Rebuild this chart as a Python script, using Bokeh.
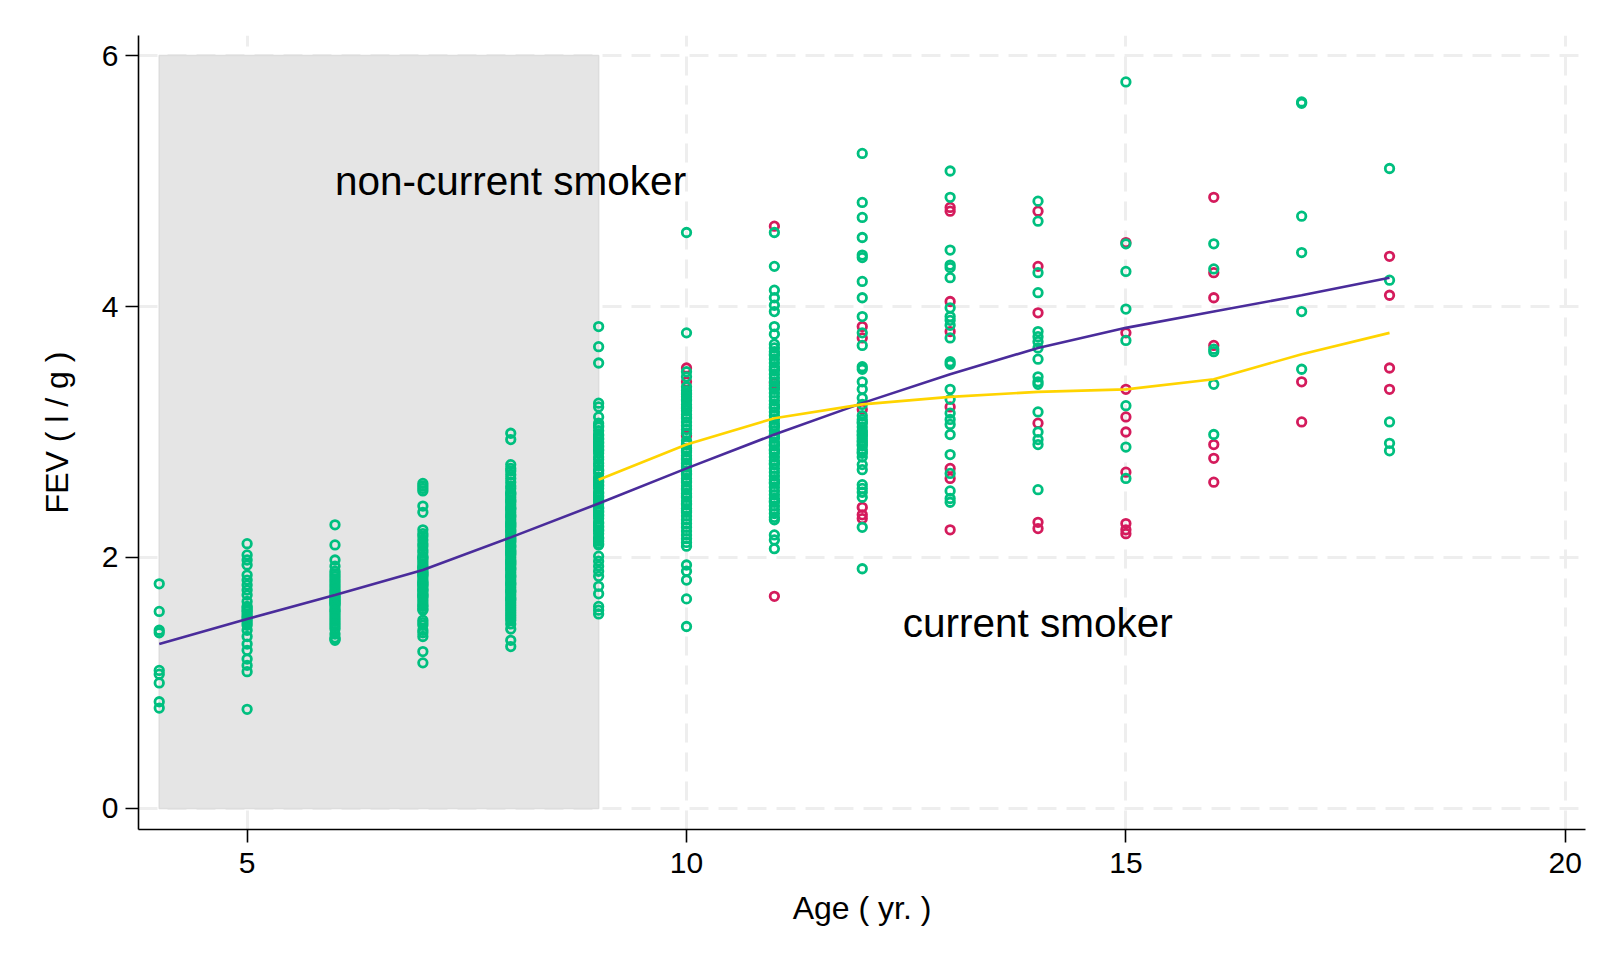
from bokeh.plotting import figure
from bokeh.models import Range1d, FixedTicker, ColumnDataSource, Label
from bokeh.embed import file_html
from bokeh.resources import INLINE

# ---------------- data ----------------
X_TICKS = [5, 10, 15, 20]
Y_TICKS = [0, 2, 4, 6]

# non-current smokers (green) per age
ns_4 = [1.79, 1.57, 1.42, 1.40, 1.10, 1.07, 1.00, 0.85, 0.80]
ns_5 = [2.11, 2.02, 1.98, 1.94, 1.86, 1.82, 1.78, 1.74, 1.70, 1.65, 1.61, 1.60, 1.58,
        1.57, 1.55, 1.53, 1.52, 1.50, 1.48, 1.46, 1.42, 1.37, 1.31, 1.26, 1.19, 1.14,
        1.09, 0.79]
ns_6 = [2.26, 2.10, 1.98, 1.93, 1.89, 1.87, 1.85, 1.83, 1.81, 1.79, 1.77, 1.75, 1.73,
        1.72, 1.70, 1.69, 1.68, 1.67, 1.66, 1.65, 1.64, 1.63, 1.62, 1.60, 1.58, 1.57,
        1.55, 1.53, 1.51, 1.49, 1.47, 1.45, 1.43, 1.39, 1.36, 1.34, 1.35]
ns_7 = [2.59, 2.57, 2.55, 2.53, 2.41, 2.36, 2.22, 2.19, 2.17, 2.14, 2.11, 2.09, 2.06,
        2.04, 2.01, 1.99, 1.97, 1.95, 1.93, 1.91, 1.89, 1.88, 1.86, 1.85, 1.83, 1.81,
        1.80, 1.78, 1.77, 1.75, 1.73, 1.71, 1.70, 1.68, 1.66, 1.64, 1.62, 1.61, 1.59,
        1.58, 1.50, 1.48, 1.46, 1.42, 1.40, 1.37, 1.25, 1.16, 2.00, 1.92, 1.87, 1.79,
        1.74, 1.69]
ns_8 = [2.99, 2.94, 2.74, 2.71, 2.69, 2.66, 2.63, 2.60, 2.57, 2.55, 2.52, 2.50, 2.48,
        2.46, 2.44, 2.42, 2.40, 2.38, 2.36, 2.34, 2.32, 2.30, 2.28, 2.26, 2.24, 2.22,
        2.20, 2.18, 2.16, 2.14, 2.12, 2.10, 2.08, 2.06, 2.04, 2.02, 2.00, 1.98, 1.96,
        1.94, 1.92, 1.90, 1.88, 1.86, 1.84, 1.82, 1.80, 1.78, 1.76, 1.74, 1.72, 1.70,
        1.68, 1.66, 1.64, 1.62, 1.60, 1.58, 1.56, 1.54, 1.52, 1.50, 1.47, 1.43, 1.34,
        1.29, 2.27, 2.21, 2.15, 2.09, 2.03, 1.97, 1.91, 1.85, 1.79, 2.33, 2.39, 2.45,
        1.73, 1.67, 2.51, 1.95, 2.05, 2.25, 2.13]
ns_9 = [3.84, 3.68, 3.55, 3.23, 3.20, 3.12, 3.07, 3.04, 3.01, 2.98, 2.95, 2.92, 2.89,
        2.86, 2.83, 2.80, 2.78, 2.73, 2.70, 2.67, 2.64, 2.61, 2.58, 2.55, 2.52, 2.49,
        2.46, 2.43, 2.40, 2.37, 2.34, 2.31, 2.28, 2.25, 2.22, 2.19, 2.16, 2.13, 2.10,
        2.01, 1.97, 1.93, 1.89, 1.85, 1.77, 1.71, 1.61, 1.58, 1.55, 3.05, 2.97, 2.91,
        2.85, 2.75, 2.69, 2.63, 2.57, 2.51, 2.45, 2.39, 2.33, 2.27, 2.21, 2.15, 2.11,
        2.88, 2.94, 2.60, 2.48, 2.36, 2.24]
ns_10 = [4.59, 3.79, 3.48, 3.44, 3.36, 3.33, 3.30, 3.28, 3.25, 3.22, 3.20, 3.17, 3.14,
         3.11, 3.08, 3.05, 3.02, 2.99, 2.93, 2.90, 2.87, 2.84, 2.81, 2.78, 2.75, 2.72,
         2.69, 2.66, 2.63, 2.60, 2.57, 2.54, 2.51, 2.48, 2.45, 2.42, 2.39, 2.36, 2.33,
         2.30, 2.27, 2.24, 2.21, 2.18, 2.15, 2.12, 2.09, 2.91, 2.85, 2.79, 2.73, 2.67,
         2.61, 2.55, 2.49, 2.43, 2.37, 3.31, 3.26, 3.19, 3.12, 1.94, 1.89, 1.82, 1.67,
         1.45]
ns_11 = [4.59, 4.32, 4.13, 4.07, 4.01, 3.96, 3.84, 3.78, 3.70, 3.67, 3.64, 3.61, 3.58,
         3.55, 3.52, 3.49, 3.46, 3.43, 3.40, 3.37, 3.34, 3.31, 3.28, 3.25, 3.22, 3.19,
         3.16, 3.13, 3.10, 3.07, 3.04, 3.01, 2.98, 2.95, 2.92, 2.89, 2.86, 2.83, 2.80,
         2.77, 2.74, 2.71, 2.68, 2.65, 2.62, 2.59, 2.56, 2.53, 2.50, 2.47, 2.44, 2.41,
         2.38, 2.35, 2.32, 2.30, 2.18, 2.14, 2.07, 3.50, 3.35, 3.20, 3.05, 2.90, 2.75,
         2.60, 2.45, 3.62, 2.96, 2.85]
ns_12 = [5.22, 4.83, 4.71, 4.55, 4.41, 4.39, 4.20, 4.07, 3.92, 3.79, 3.69, 3.52, 3.50,
         3.40, 3.34, 3.27, 3.22, 3.10, 3.07, 3.04, 3.01, 2.98, 2.95, 2.92, 2.89, 2.86,
         2.83, 2.80, 3.08, 2.97, 2.90, 2.84, 2.74, 2.70, 2.58, 2.55, 2.52, 2.48, 2.24,
         1.91, 3.13, 3.00, 2.93]
ns_13 = [5.08, 4.87, 4.45, 4.33, 4.31, 4.23, 3.99, 3.89, 3.75, 3.56, 3.54, 3.34, 3.26,
         3.15, 3.10, 3.06, 2.98, 2.82, 2.67, 2.53, 2.44, 2.47, 3.92, 3.85]
ns_14 = [4.84, 4.68, 4.27, 4.11, 3.80, 3.76, 3.72, 3.67, 3.58, 3.44, 3.40, 3.38, 3.16,
         3.00, 2.94, 2.90, 2.54]
ns_15 = [5.79, 4.50, 4.28, 3.98, 3.73, 3.21, 2.88, 2.63]
ns_16 = [4.50, 4.30, 3.66, 3.64, 3.38, 2.98]
ns_17 = [5.63, 5.62, 4.72, 4.43, 3.96, 3.50]
ns_18 = [5.10, 4.21, 3.08, 2.91, 2.85]

# current smokers (red) per age
sm_10 = [3.51, 3.40, 2.97]
sm_11 = [4.64, 3.39, 1.69]
sm_12 = [3.84, 3.75, 3.18, 2.40, 2.34, 2.31]
sm_13 = [4.79, 4.76, 4.04, 3.80, 3.20, 2.71, 2.63, 2.22]
sm_14 = [4.76, 4.32, 3.95, 3.07, 2.28, 2.23]
sm_15 = [4.51, 3.79, 3.34, 3.12, 3.00, 2.68, 2.27, 2.22, 2.19]
sm_16 = [4.87, 4.27, 4.07, 3.69, 2.90, 2.79, 2.60]
sm_17 = [3.40, 3.08]
sm_18 = [4.40, 4.09, 3.51, 3.34]

# fitted curves
ns_fit_age = [4, 5, 6, 7, 8, 9, 10, 11, 12, 13, 14, 15, 16, 17, 18]
ns_fit_fev = [1.31, 1.51, 1.70, 1.90, 2.16, 2.43, 2.71, 2.98, 3.23, 3.46, 3.67, 3.83,
              3.96, 4.09, 4.23]
sm_fit_age = [9, 10, 11, 12, 13, 14, 15, 16, 17, 18]
sm_fit_fev = [2.62, 2.90, 3.11, 3.22, 3.28, 3.32, 3.34, 3.42, 3.62, 3.79]

# shaded band (non-current smoker region)
band_age = (4, 9)
band_fev = (0, 6)

X_LABEL = "Age ( yr. )"
Y_LABEL = "FEV ( l / g )"
TXT_NS = "non-current smoker"
TXT_SM = "current smoker"

# ---------------- build ----------------
ns_groups = {4: ns_4, 5: ns_5, 6: ns_6, 7: ns_7, 8: ns_8, 9: ns_9, 10: ns_10, 11: ns_11,
             12: ns_12, 13: ns_13, 14: ns_14, 15: ns_15, 16: ns_16, 17: ns_17, 18: ns_18}
sm_groups = {10: sm_10, 11: sm_11, 12: sm_12, 13: sm_13, 14: sm_14, 15: sm_15,
             16: sm_16, 17: sm_17, 18: sm_18}

def flatten(groups):
    xs, ys = [], []
    for a, vals in groups.items():
        xs += [a] * len(vals)
        ys += vals
    return ColumnDataSource(dict(age=xs, fev=ys))

ns_src = flatten(ns_groups)
sm_src = flatten(sm_groups)

GREEN = "#00bf7f"
RED = "#d41b5c"
PURPLE = "#4a2c9b"
YELLOW = "#ffd400"
FONT = "Liberation Sans"

p = figure(width=1612, height=964, output_backend="svg", toolbar_location=None,
           x_range=Range1d(3.764, 20.23), y_range=Range1d(-0.168, 6.16),
           min_border_left=138, min_border_right=27, min_border_top=35,
           min_border_bottom=135)
p.outline_line_color = None
p.background_fill_color = "white"
p.border_fill_color = "white"

for ax in (p.xaxis[0], p.yaxis[0]):
    ax.axis_line_color = "black"
    ax.axis_line_width = 1.6
    ax.major_tick_line_color = "black"
    ax.major_tick_line_width = 1.6
    ax.major_tick_out = 13
    ax.major_tick_in = 0
    ax.minor_tick_line_color = None
    ax.major_label_text_font = FONT
    ax.major_label_text_font_size = "30px"
    ax.major_label_text_color = "black"
    ax.axis_label_text_font = FONT
    ax.axis_label_text_font_size = "32px"
    ax.axis_label_text_font_style = "normal"
    ax.axis_label_text_color = "black"

p.xaxis.ticker = FixedTicker(ticks=X_TICKS)
p.yaxis.ticker = FixedTicker(ticks=Y_TICKS)
p.xaxis.axis_label = X_LABEL
p.yaxis.axis_label = Y_LABEL
p.xaxis.major_label_standoff = 10
p.xaxis.axis_label_standoff = 14
p.yaxis.major_label_standoff = 7
p.yaxis.axis_label_standoff = 24

for g in (p.xgrid[0], p.ygrid[0]):
    g.grid_line_color = "#eeeeee"
    g.grid_line_width = 3
    g.grid_line_dash = "19 10"
p.xgrid.ticker = FixedTicker(ticks=X_TICKS)
p.ygrid.ticker = FixedTicker(ticks=Y_TICKS)

p.quad(left=[band_age[0]], right=[band_age[1]], bottom=[band_fev[0]], top=[band_fev[1]],
       fill_color="#e5e5e5", line_color="#dddddd", line_width=1.5)

p.scatter("age", "fev", source=sm_src, marker="circle", size=8.5, fill_color=None,
          line_color=RED, line_width=2.8)
p.scatter("age", "fev", source=ns_src, marker="circle", size=8.5, fill_color=None,
          line_color=GREEN, line_width=2.8)

p.line(ns_fit_age, ns_fit_fev, line_color=PURPLE, line_width=2.6)
p.line(sm_fit_age, sm_fit_fev, line_color=YELLOW, line_width=2.6)

p.add_layout(Label(x=6.0, y=5.0, text=TXT_NS, text_font=FONT, text_font_size="40.5px",
                   text_baseline="middle", text_align="left", text_color="black"))
p.add_layout(Label(x=12.46, y=1.48, text=TXT_SM, text_font=FONT, text_font_size="40.5px",
                   text_baseline="middle", text_align="left", text_color="black"))

open("out.html", "w").write(file_html(p, INLINE))
